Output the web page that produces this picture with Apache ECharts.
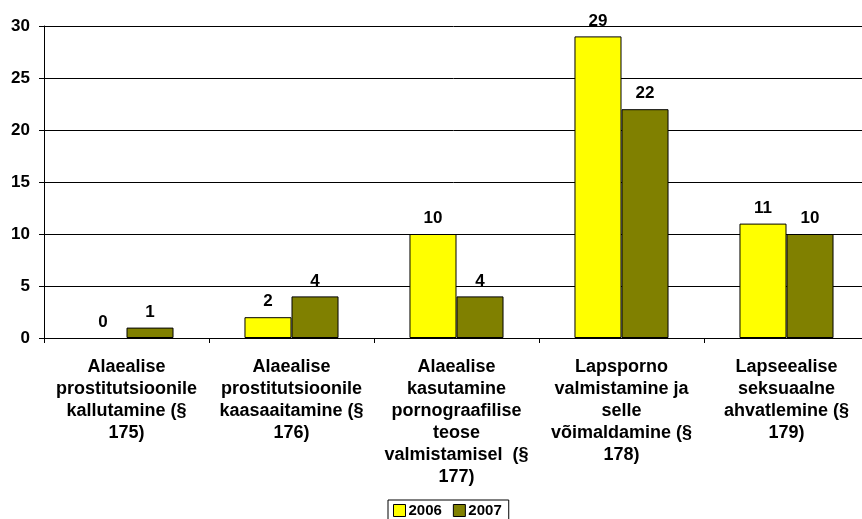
<!DOCTYPE html>
<html>
<head>
<meta charset="utf-8">
<script src="https://cdn.jsdelivr.net/npm/echarts@6/dist/echarts.min.js"></script>
<style>
  html, body { margin: 0; padding: 0; background: #fff; }
  #main { width: 862px; height: 519px; }
</style>
</head>
<body>
<div id="main"></div>
<script>
var categories = [
    'Alaealise\nprostitutsioonile\nkallutamine (§\n175)',
    'Alaealise\nprostitutsioonile\nkaasaaitamine (§\n176)',
    'Alaealise\nkasutamine\npornograafilise\nteose\nvalmistamisel  (§\n177)',
    'Lapsporno\nvalmistamine ja\nselle\nvõimaldamine (§\n178)',
    'Lapseealise\nseksuaalne\nahvatlemine (§\n179)'
];
var values2006 = [0, 2, 10, 29, 11];
var values2007 = [1, 4, 4, 22, 10];
var yTicks = { min: 0, max: 30, interval: 5 };

var font = 'Liberation Sans, Arial, sans-serif';

var chart = echarts.init(document.getElementById('main'));

function barSeries(name, data, color) {
    return {
        name: name,
        type: 'bar',
        // zero bars draw no outline, only the label
        data: data.map(function (v) {
            return { value: v, itemStyle: { borderWidth: v === 0 ? 0 : 1 } };
        }),
        barWidth: '28.5%',
        barGap: '0%',
        itemStyle: { color: color, borderColor: '#000', borderWidth: 1 },
        label: {
            show: true,
            position: 'top',
            distance: 7,
            color: '#000',
            fontFamily: font,
            fontWeight: 'bold',
            fontSize: 17
        },
        emphasis: { disabled: true }
    };
}

chart.setOption({
    animation: false,
    grid: {
        left: 44, width: 825, top: 26, height: 312,
        containLabel: false, outerBoundsMode: 'none'
    },
    legend: {
        top: 500,
        left: 388,
        icon: 'rect',
        itemWidth: 12,
        itemHeight: 12,
        itemGap: 11,
        padding: [3, 7, 3, 5],
        borderColor: '#000',
        borderWidth: 1,
        borderRadius: 0,
        textStyle: { color: '#000', fontFamily: font, fontWeight: 'bold', fontSize: 15, padding: [0, 0, 0, -2] },
        itemStyle: { borderColor: '#000', borderWidth: 1 },
        data: ['2006', '2007']
    },
    xAxis: {
        type: 'category',
        data: categories,
        axisLine: { lineStyle: { color: '#000' } },
        axisTick: { show: true, length: 5, lineStyle: { color: '#000' } },
        axisLabel: {
            interval: 0,
            color: '#000',
            fontFamily: font,
            fontWeight: 'bold',
            fontSize: 18,
            lineHeight: 22,
            margin: 18
        }
    },
    yAxis: {
        type: 'value',
        min: yTicks.min,
        max: yTicks.max,
        interval: yTicks.interval,
        axisLine: { show: true, lineStyle: { color: '#000' } },
        axisTick: { show: true, length: 5, lineStyle: { color: '#000' } },
        splitLine: { lineStyle: { color: '#000' } },
        axisLabel: {
            color: '#000',
            fontFamily: font,
            fontWeight: 'bold',
            fontSize: 17,
            margin: 14
        }
    },
    series: [
        barSeries('2006', values2006, '#ffff00'),
        barSeries('2007', values2007, '#808000')
    ]
});
</script>
</body>
</html>
